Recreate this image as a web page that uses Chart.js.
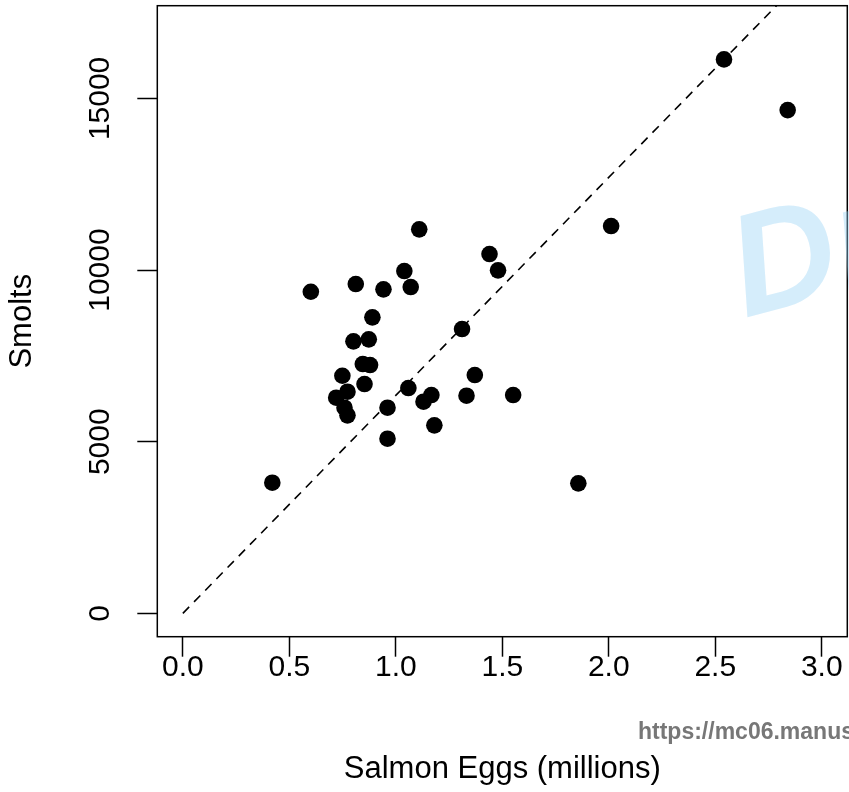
<!DOCTYPE html>
<html>
<head>
<meta charset="utf-8">
<script src="https://cdn.jsdelivr.net/npm/chart.js@4/dist/chart.umd.min.js"></script>
<style>
  html, body { margin: 0; padding: 0; background: #fff; }
  canvas { display: block; }
</style>
</head>
<body>
<canvas id="myChart" width="849" height="792"></canvas>
<script>
// eggs (millions) and smolts
const eggs = [0.601, 0.812, 0.942, 1.040, 1.070, 1.440, 1.480, 0.890, 1.311, 0.801,
  0.873, 0.845, 0.879, 0.749, 0.853, 0.773, 0.720, 0.759, 0.773, 1.059,
  1.130, 1.167, 0.961, 1.371, 1.332, 1.551, 1.181, 0.961, 1.110, 2.011,
  0.420, 1.857, 2.541, 2.840];
const smolts = [9368, 9592, 9438, 9971, 9505, 10466, 9991, 8622, 8281, 7923,
  7981, 7262, 7233, 6921, 6679, 6455, 6281, 5989, 5767, 6563,
  6164, 6359, 5989, 6941, 6339, 6359, 5476, 5086, 11186, 11282,
  3805, 3787, 16137, 14660];
const xTicks = [0, 0.5, 1, 1.5, 2, 2.5, 3];
const yTicks = [0, 5000, 10000, 15000];
const refSlope = 6350; // dashed reference line through the origin
const xLim = [0, 3];
const yLim = [0, 17020];

const font = "'Liberation Sans', Arial, Helvetica, sans-serif";

function pad(lim) {
  const d = (lim[1] - lim[0]) * 0.04;
  return [lim[0] - d, lim[1] + d];
}

const points = eggs.map(function (e, i) {
  return { x: e, y: smolts[i] };
});

function noPadding(scale) {
  scale.paddingLeft = 0;
  scale.paddingRight = 0;
  scale.paddingTop = 0;
  scale.paddingBottom = 0;
}

const boxPlugin = {
  id: "box",
  afterDraw: function (chart) {
    const a = chart.chartArea;
    const ctx = chart.ctx;
    ctx.save();
    ctx.strokeStyle = "#000";
    ctx.lineWidth = 1.5;
    ctx.strokeRect(a.left, a.top, a.right - a.left, a.bottom - a.top);
    ctx.restore();
  },
};

const watermarkPlugin = {
  id: "watermark",
  afterDraw: function (chart) {
    const ctx = chart.ctx;
    ctx.save();
    ctx.fillStyle = "rgba(150, 210, 245, 0.4)";
    ctx.font = "italic bold 145px " + font;
    ctx.translate(745, 318);
    ctx.rotate(-0.26);
    ctx.textBaseline = "alphabetic";
    ctx.fillText("Draft", 0, 0);
    ctx.restore();

    ctx.save();
    ctx.fillStyle = "#777";
    ctx.font = "bold 23px " + font;
    ctx.textBaseline = "alphabetic";
    ctx.fillText("https://mc06.manuscriptcentral.com/cjfas", 638, 739);
    ctx.restore();
  },
};

const xr = pad(xLim);
const yr = pad(yLim);

const ctx = document.getElementById("myChart").getContext("2d");
const myChart = new Chart(ctx, {
  type: "scatter",
  data: {
    datasets: [
      {
        type: "line",
        label: "ref",
        data: [
          { x: 0, y: 0 },
          { x: xLim[1], y: xLim[1] * refSlope },
        ],
        borderColor: "#000",
        borderWidth: 1.6,
        borderDash: [9, 7],
        pointRadius: 0,
        fill: false,
      },
      {
        label: "Smolts",
        data: points,
        backgroundColor: "#000",
        borderWidth: 0,
        pointRadius: 8.3,
        pointHoverRadius: 8.3,
      },
    ],
  },
  options: {
    responsive: false,
    animation: false,
    events: [],
    layout: {
      autoPadding: false,
      padding: { top: 5.7, right: 1.7, left: 0, bottom: 0 },
    },
    plugins: {
      legend: { display: false },
      tooltip: { enabled: false },
    },
    scales: {
      x: {
        type: "linear",
        min: xr[0],
        max: xr[1],
        afterBuildTicks: function (scale) {
          scale.ticks = xTicks.map(function (v) { return { value: v }; });
        },
        afterFit: function (scale) {
          scale.height = 155.3;
          noPadding(scale);
        },
        border: { display: false },
        grid: {
          drawOnChartArea: false,
          drawTicks: true,
          tickLength: 20,
          tickColor: "#000",
          tickWidth: 1.5,
        },
        ticks: {
          color: "#000",
          font: { family: font, size: 30 },
          padding: -7,
          maxRotation: 0,
          autoSkip: false,
          callback: function (v) { return Number(v).toFixed(1); },
        },
        title: {
          display: true,
          text: "Salmon Eggs (millions)",
          color: "#000",
          font: { family: font, size: 31 },
        },
      },
      y: {
        type: "linear",
        min: yr[0],
        max: yr[1],
        afterBuildTicks: function (scale) {
          scale.ticks = yTicks.map(function (v) { return { value: v }; });
        },
        afterFit: function (scale) {
          scale.width = 157.3;
          noPadding(scale);
        },
        border: { display: false },
        grid: {
          drawOnChartArea: false,
          drawTicks: true,
          tickLength: 20,
          tickColor: "#000",
          tickWidth: 1.5,
        },
        ticks: {
          color: "#000",
          font: { family: font, size: 30 },
          padding: -5,
          minRotation: 90,
          maxRotation: 90,
          crossAlign: "center",
          autoSkip: false,
          callback: function (v) { return String(v); },
        },
        title: {
          display: true,
          text: "Smolts",
          color: "#000",
          font: { family: font, size: 31 },
        },
      },
    },
  },
  plugins: [boxPlugin, watermarkPlugin],
});
</script>
</body>
</html>
